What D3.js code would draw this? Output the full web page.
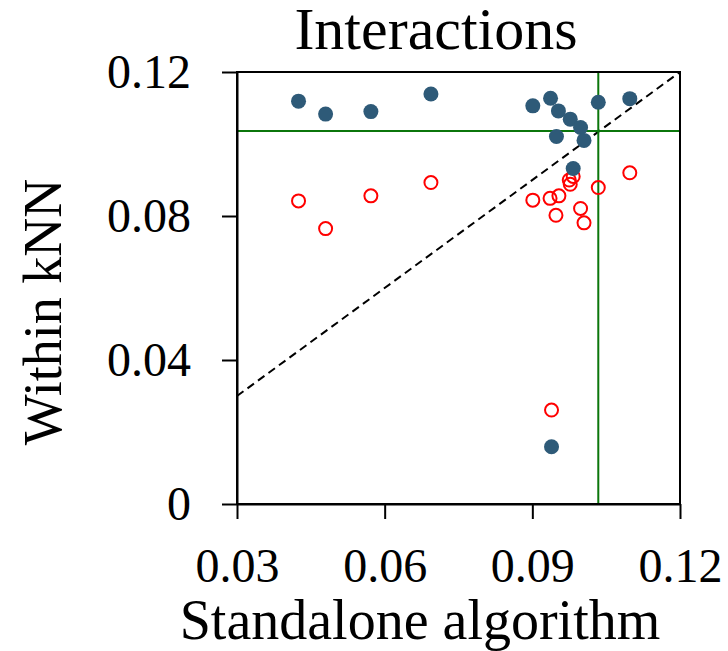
<!DOCTYPE html>
<html>
<head>
<meta charset="utf-8">
<script src="https://cdn.jsdelivr.net/npm/d3@7"></script>
<style>
  body { margin: 0; background: #fff; }
  svg text { font-family: "Liberation Serif", "Times New Roman", serif; fill: #000; }
  .axis path, .axis line { stroke: #000; stroke-width: 2; }
</style>
</head>
<body>
<script>
// chart values
let xTicks = [0.03, 0.06, 0.09, 0.12];
let yTicks = [0, 0.04, 0.08, 0.12];

// filled dots
let kept_x = [0.0425, 0.0480, 0.0572, 0.0694, 0.0901, 0.0937, 0.0953, 0.0977, 0.0998, 0.0949, 0.1005, 0.1034, 0.1098, 0.0983, 0.0939];
let kept_y = [0.1119, 0.1083, 0.1090, 0.1139, 0.1106, 0.1127, 0.1092, 0.1069, 0.1046, 0.1021, 0.1010, 0.1116, 0.1126, 0.0932, 0.0159];

// open red circles
let other_x = [0.0425, 0.0480, 0.0572, 0.0694, 0.0901, 0.0936, 0.0954, 0.0948, 0.0998, 0.1005, 0.0983, 0.0975, 0.0977, 0.1034, 0.1098, 0.0939];
let other_y = [0.0842, 0.0765, 0.0856, 0.0893, 0.0844, 0.0849, 0.0856, 0.0802, 0.0821, 0.0781, 0.0910, 0.0900, 0.0888, 0.0879, 0.0920, 0.0261];

// green reference lines
let refX = 0.1034;
let refY = 0.1036;

//plot box in page pixels
let margin = { top: 72, right: 48, bottom: 147, left: 237 };
let svgWidth = 728;
let svgHeight = 651;
let width = svgWidth - margin.left - margin.right;
let height = svgHeight - margin.top - margin.bottom;

let svg = d3.select("body")
  .append("svg")
  .attr("width", svgWidth)
  .attr("height", svgHeight);

let canvas = svg.append("g")
  .attr("transform", "translate(" + margin.left + "," + margin.top + ")");

let xScale = d3.scaleLinear()
  .domain([0.03, 0.12])
  .range([0, width]);

let yScale = d3.scaleLinear()
  .domain([0, 0.12])
  .range([height, 0]);

let fmt = d => d === 0 ? "0" : d3.format(".2f")(d);

// diagonal y = x
canvas.append("line")
  .attr("x1", xScale(0.03)).attr("y1", yScale(0.03))
  .attr("x2", xScale(0.12)).attr("y2", yScale(0.12))
  .attr("stroke", "#000")
  .attr("stroke-width", 2)
  .attr("stroke-dasharray", "8,5");

// green thresholds
canvas.append("line")
  .attr("x1", 0).attr("x2", width)
  .attr("y1", yScale(refY)).attr("y2", yScale(refY))
  .attr("stroke", "#0b760b").attr("stroke-width", 2);
canvas.append("line")
  .attr("x1", xScale(refX)).attr("x2", xScale(refX))
  .attr("y1", 0).attr("y2", height)
  .attr("stroke", "#0b760b").attr("stroke-width", 2);

// box
canvas.append("rect")
  .attr("x", 0).attr("y", 0)
  .attr("width", width).attr("height", height)
  .attr("fill", "none")
  .attr("stroke", "#000")
  .attr("stroke-width", 2);

let yAxis = canvas.append("g")
  .attr("class", "axis")
  .call(d3.axisLeft(yScale).tickValues(yTicks).tickFormat(fmt).tickSize(15).tickSizeOuter(0).tickPadding(31));

let xAxis = canvas.append("g")
  .attr("class", "axis")
  .attr("transform", "translate(0," + height + ")")
  .call(d3.axisBottom(xScale).tickValues(xTicks).tickFormat(fmt).tickSize(15).tickSizeOuter(0).tickPadding(29));

canvas.selectAll(".axis text")
  .style("font-size", "48px");

let otherData = other_x.map((x, i) => ({ x: x, y: other_y[i] }));
let keptData = kept_x.map((x, i) => ({ x: x, y: kept_y[i] }));

canvas.selectAll("circle.other")
  .data(otherData)
  .enter()
  .append("circle")
    .attr("class", "other")
    .attr("cx", d => xScale(d.x))
    .attr("cy", d => yScale(d.y))
    .attr("r", 6.5)
    .attr("fill", "none")
    .attr("stroke", "#ff0000")
    .attr("stroke-width", 2);

canvas.selectAll("circle.kept")
  .data(keptData)
  .enter()
  .append("circle")
    .attr("class", "kept")
    .attr("cx", d => xScale(d.x))
    .attr("cy", d => yScale(d.y))
    .attr("r", 7.5)
    .attr("fill", "#2e5a78");

// titles
svg.append("text")
  .attr("x", 436)
  .attr("y", 49)
  .attr("text-anchor", "middle")
  .style("font-size", "60px")
  .text("Interactions");

svg.append("text")
  .attr("x", 420)
  .attr("y", 639)
  .attr("text-anchor", "middle")
  .style("font-size", "56px")
  .text("Standalone algorithm");

svg.append("text")
  .attr("transform", "translate(61,312) rotate(-90)")
  .attr("text-anchor", "middle")
  .style("font-size", "54px")
  .text("Within kNN");
</script>
</body>
</html>
